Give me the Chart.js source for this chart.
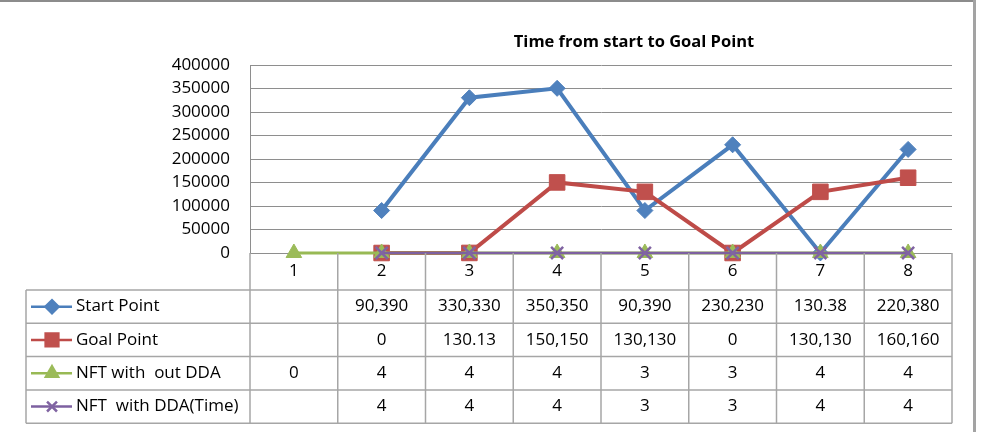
<!DOCTYPE html>
<html>
<head>
<meta charset="utf-8">
<title>Time from start to Goal Point</title>
<script src="https://cdn.jsdelivr.net/npm/chart.js@4.4.0/dist/chart.umd.min.js"></script>
<style>
  html, body { margin: 0; padding: 0; background: #fff; }
  #wrap { width: 983px; height: 432px; position: relative; }
</style>
</head>
<body>
<div id="wrap"><canvas id="chart" width="983" height="432"></canvas></div>
<script>
// ===== data =====
const categories = ['1', '2', '3', '4', '5', '6', '7', '8'];
const startPoint = [null, 90390, 330330, 350350, 90390, 230230, 130.38, 220380];
const goalPoint = [null, 0, 130.13, 150150, 130130, 0, 130130, 160160];
const nftWithoutDda = [0, 4, 4, 4, 3, 3, 4, 4];
const nftWithDda = [null, 4, 4, 4, 3, 3, 4, 4];
const yTicks = [0, 50000, 100000, 150000, 200000, 250000, 300000, 350000, 400000];

const chartTitle = 'Time from start to Goal Point';
const FONT = '"Open Sans", "Liberation Sans", sans-serif';

// ===== layout constants =====
const TITLE_X = 634, TITLE_Y = 42;
const TABLE_LEFT = 26;
const ROW_H = 33.3;

// frame + background
const framePlugin = {
  id: 'frame',
  beforeDraw(chart) {
    const ctx = chart.ctx;
    ctx.save();
    ctx.fillStyle = '#fff';
    ctx.fillRect(0, 0, chart.width, chart.height);
    ctx.strokeStyle = '#8c8c8c';
    ctx.lineWidth = 2;
    ctx.beginPath();
    ctx.moveTo(0, 1);
    ctx.lineTo(975, 1);
    ctx.stroke();
    ctx.strokeStyle = '#a3a3a3';
    ctx.lineWidth = 3;
    ctx.beginPath();
    ctx.moveTo(974.5, 0);
    ctx.lineTo(974.5, chart.height);
    ctx.stroke();
    ctx.restore();
  }
};

// title + data table under the plot
const tablePlugin = {
  id: 'dataTable',
  afterDraw(chart) {
    const ctx = chart.ctx;
    const x = chart.scales.x;
    const area = chart.chartArea;
    const n = categories.length;
    const colW = (x.right - x.left) / n;
    const headTop = area.bottom;
    const headBottom = x.bottom;
    const rows = chart.data.datasets;
    const tableBottom = headBottom + ROW_H * rows.length;

    ctx.save();

    // title
    ctx.fillStyle = '#000';
    ctx.font = 'bold 16.5px ' + FONT;
    ctx.textAlign = 'center';
    ctx.textBaseline = 'middle';
    ctx.fillText(chartTitle, TITLE_X, TITLE_Y);

    // grid of the table
    ctx.strokeStyle = '#a6a6a6';
    ctx.lineWidth = 1.5;
    ctx.beginPath();
    for (let i = 0; i <= n; i++) {
      const px = x.left + i * colW;
      ctx.moveTo(px, headTop);
      ctx.lineTo(px, tableBottom);
    }
    ctx.moveTo(TABLE_LEFT, headBottom);
    ctx.lineTo(TABLE_LEFT, tableBottom);
    for (let r = 0; r <= rows.length; r++) {
      const py = headBottom + r * ROW_H;
      ctx.moveTo(TABLE_LEFT, py);
      ctx.lineTo(x.right, py);
    }
    ctx.stroke();

    // category header
    ctx.font = '17px ' + FONT;
    ctx.fillStyle = '#000';
    categories.forEach((c, i) => {
      ctx.fillText(c, x.getPixelForValue(i), (headTop + headBottom) / 2);
    });

    // rows
    rows.forEach((ds, r) => {
      const cy = headBottom + r * ROW_H + ROW_H / 2;

      // legend key
      ctx.strokeStyle = ds.borderColor;
      ctx.lineWidth = 2.5;
      ctx.beginPath();
      ctx.moveTo(TABLE_LEFT + 5, cy);
      ctx.lineTo(TABLE_LEFT + 46, cy);
      ctx.stroke();
      ctx.fillStyle = ds.pointBackgroundColor;
      ctx.strokeStyle = ds.pointBorderColor;
      Chart.helpers.drawPoint(ctx, {
        pointStyle: ds.pointStyle,
        radius: ds.legendRadius,
        borderWidth: ds.pointBorderWidth,
        rotation: 0
      }, TABLE_LEFT + 26, cy);

      ctx.fillStyle = '#000';
      ctx.textAlign = 'left';
      ctx.font = '17px ' + FONT;
      ctx.fillText(ds.label, TABLE_LEFT + 50, cy);

      ctx.textAlign = 'center';
      ds.data.forEach((v, i) => {
        if (v === null) return;
        ctx.fillText(v.toLocaleString('en-US'), x.getPixelForValue(i), cy);
      });
    });

    ctx.restore();
  }
};

function series(label, data, line, fill, style, radius, legendRadius, width, order) {
  return {
    label: label,
    data: data,
    borderColor: line,
    backgroundColor: fill,
    pointBackgroundColor: fill,
    pointBorderColor: fill,
    pointStyle: style,
    pointRadius: radius,
    pointBorderWidth: style === 'crossRot' ? 2.5 : 1,
    legendRadius: legendRadius,
    borderWidth: width,
    tension: 0,
    spanGaps: false,
    clip: false,
    order: order
  };
}

new Chart(document.getElementById('chart'), {
  type: 'line',
  data: {
    labels: categories,
    datasets: [
      series('Start Point', startPoint, '#4a7ebb', '#4f81bd', 'rectRot', 8, 6.5, 4, 4),
      series('Goal Point', goalPoint, '#be4b48', '#c0504d', 'rect', 11, 9, 4, 3),
      series('NFT with  out DDA', nftWithoutDda, '#98b954', '#9bbb59', 'triangle', 9, 7, 3, 2),
      series('NFT  with DDA(Time)', nftWithDda, '#7d60a0', '#8064a2', 'crossRot', 8.5, 7, 2.5, 1)
    ]
  },
  options: {
    responsive: false,
    devicePixelRatio: 1,
    animation: false,
    layout: { padding: { left: 0, right: 31, top: 65, bottom: 142 } },
    plugins: {
      legend: { display: false },
      title: { display: false },
      tooltip: { enabled: false }
    },
    scales: {
      x: {
        offset: true,
        grid: { display: false },
        border: { display: false },
        ticks: { display: false },
        afterFit: (scale) => { scale.height = 37; }
      },
      y: {
        min: yTicks[0],
        max: yTicks[yTicks.length - 1],
        afterFit: (scale) => { scale.width = 250; },
        afterBuildTicks: (scale) => { scale.ticks = yTicks.map(v => ({ value: v })); },
        grid: { color: '#8e8e8e', lineWidth: 1, drawTicks: false },
        border: { display: true, color: '#8e8e8e', width: 1 },
        ticks: {
          padding: 20,
          color: '#000',
          font: { family: FONT, size: 17 },
          callback: (v) => String(v)
        }
      }
    }
  },
  plugins: [framePlugin, tablePlugin]
});
</script>
</body>
</html>
